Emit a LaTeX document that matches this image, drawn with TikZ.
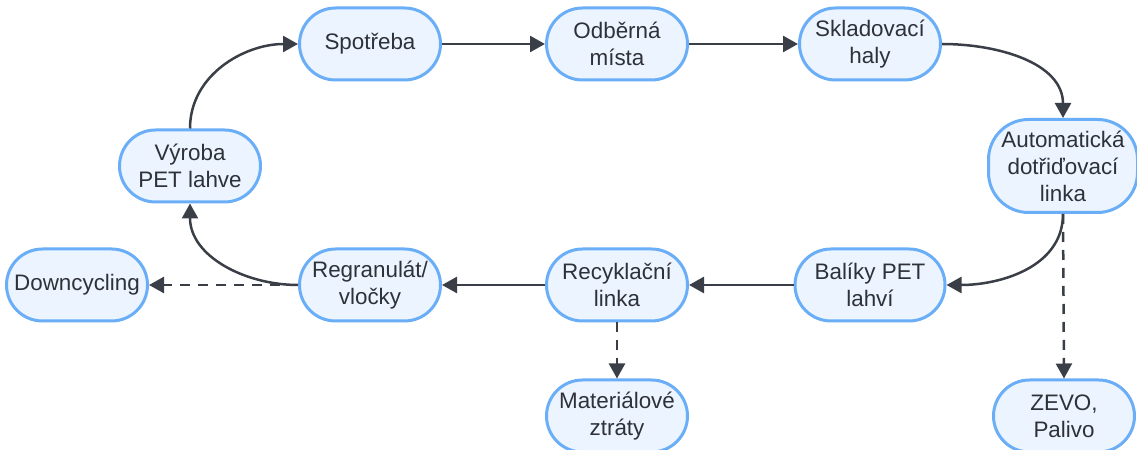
\documentclass[tikz,border=0pt]{standalone}
\usepackage{fontspec}
\setmainfont{Liberation Sans}
\usetikzlibrary{arrows.meta}

\definecolor{boxfill}{HTML}{EBF4FF}
\definecolor{boxline}{HTML}{6AAEF7}
\definecolor{flowline}{HTML}{3A3F47}
\definecolor{boxtext}{HTML}{2E3238}

\begin{document}
\begin{tikzpicture}[x=0.5pt, y=0.5pt,
	stage/.style={draw=boxline, fill=boxfill, line width=1.5pt, rounded corners=18pt,
		minimum width=70.5pt, minimum height=36pt, align=center, text=boxtext,
		inner sep=2pt, font=\fontsize{11.2}{13.5}\selectfont},
	flow/.style={draw=flowline, line width=1.25pt, -{Triangle[length=7.5pt, width=8pt]}},
	loss/.style={flow, dash pattern=on 5pt off 4pt}]
	\useasboundingbox (0,0) rectangle (1137,450);

	% upper row
	\node [stage] (spot) at (370,406) {Spotřeba};
	\node [stage] (odber) at (617,406) {Odběrná\\místa};
	\node [stage] (sklad) at (870,406) {Skladovací\\haly};

	% sides
	\node [stage, minimum width=74.5pt, minimum height=46.5pt, rounded corners=20pt] (tridic) at (1063,284) {Automatická\\dotřiďovací\\linka};
	\node [stage] (vyroba) at (190,284) {Výroba\\PET lahve};

	% lower row
	\node [stage] (down) at (77,165) {Downcycling};
	\node [stage] (regran) at (370,165) {Regranulát/\\vločky};
	\node [stage] (recykl) at (617,165) {Recyklační\\linka};
	\node [stage, minimum width=75pt] (baliky) at (870,165) {Balíky PET\\lahví};

	% losses
	\node [stage] (ztraty) at (617,34) {Materiálové\\ztráty};
	\node [stage] (zevo) at (1064,34) {ZEVO,\\Palivo};

	% main loop
	\draw [flow] (spot) -- (odber);
	\draw [flow] (odber) -- (sklad);
	\draw [flow] (sklad.east) to [out=0, in=90] (tridic.north);
	\draw [flow] (tridic.south) to [out=-90, in=0] (baliky.east);
	\draw [flow] (baliky) -- (recykl);
	\draw [flow] (recykl) -- (regran);
	\draw [flow] (regran.west) to [out=180, in=-90] (vyroba.south);
	\draw [flow] (vyroba.north) to [out=90, in=180] (spot.west);

	% side outputs
	\draw [loss] (tridic.south) -- (zevo.north);
	\draw [loss] (recykl.south) -- (ztraty.north);
	\draw [loss] (regran.west) -- (down.east);
\end{tikzpicture}
\end{document}
